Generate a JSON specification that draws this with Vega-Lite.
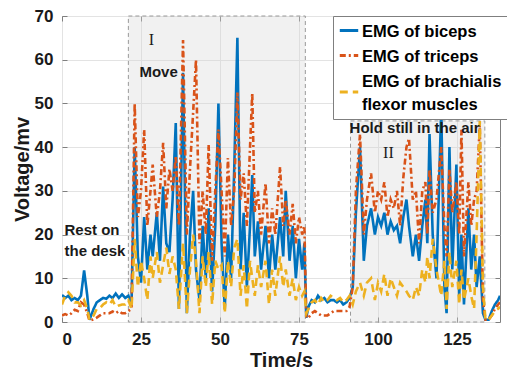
{
  "$schema": "https://vega.github.io/schema/vega-lite/v6.json",
  "width": 438,
  "height": 306,
  "autosize": "none",
  "padding": {"left": 62, "top": 16, "right": 7, "bottom": 54},
  "background": "white",
  "config": {
    "view": {"stroke": "#7f7f7f", "strokeWidth": 1},
    "font": "Liberation Sans",
    "axis": {
      "labelFont": "Liberation Sans", "labelFontWeight": "bold", "labelFontSize": 17, "labelColor": "#1a1a1a",
      "titleFont": "Liberation Sans", "titleFontWeight": "bold", "titleFontSize": 20, "titleColor": "#1a1a1a",
      "gridColor": "#e3e3e3", "gridWidth": 1, "domain": false,
      "tickColor": "#7f7f7f", "tickSize": -5, "labelPadding": 14
    },
    "legend": {
      "title": null, "orient": "none", "legendX": 271, "legendY": 0,
      "fillColor": "white", "strokeColor": "#7f7f7f", "padding": 5, "rowPadding": 5,
      "labelFont": "Liberation Sans", "labelFontWeight": "bold", "labelFontSize": 16.5, "labelColor": "black",
      "labelOffset": 2, "labelLimit": 400,
      "symbolType": "stroke", "symbolStrokeWidth": 3, "symbolSize": 340
    }
  },
  "datasets": {
    "emg": [
      {"t": 0, "s1": 6.2, "s2": 1.5, "s3": 4},
      {"t": 1, "s1": 5.5, "s2": 1.8, "s3": 6},
      {"t": 2, "s1": 6, "s2": 1.5, "s3": 6.8},
      {"t": 3, "s1": 5, "s2": 2, "s3": 6},
      {"t": 4, "s1": 5.5, "s2": 2.8, "s3": 4.5},
      {"t": 5, "s1": 5, "s2": 2.5, "s3": 4.5},
      {"t": 6, "s1": 6, "s2": 4.5, "s3": 3.8},
      {"t": 7, "s1": 11.8, "s2": 4, "s3": 5},
      {"t": 8, "s1": 6, "s2": 2, "s3": 3},
      {"t": 8.7, "s1": 0.5, "s2": 0.3, "s3": 0.5},
      {"t": 10, "s1": 3, "s2": 0.6, "s3": 1.5},
      {"t": 11, "s1": 4.5, "s2": 1, "s3": 3},
      {"t": 12, "s1": 5, "s2": 1.5, "s3": 3.2},
      {"t": 13, "s1": 5.5, "s2": 2, "s3": 4},
      {"t": 14, "s1": 5.3, "s2": 2, "s3": 4.5},
      {"t": 15, "s1": 6, "s2": 2, "s3": 4},
      {"t": 16, "s1": 5.5, "s2": 2.4, "s3": 5},
      {"t": 17, "s1": 6.5, "s2": 2, "s3": 3.5},
      {"t": 18, "s1": 5.5, "s2": 2.5, "s3": 3.8},
      {"t": 19, "s1": 6.3, "s2": 2, "s3": 4},
      {"t": 20, "s1": 5.5, "s2": 2, "s3": 4},
      {"t": 21, "s1": 6, "s2": 2.5, "s3": 5},
      {"t": 22, "s1": 4, "s2": 3, "s3": 3},
      {"t": 23, "s1": 40, "s2": 50, "s3": 19},
      {"t": 24, "s1": 15, "s2": 24, "s3": 8},
      {"t": 25, "s1": 9, "s2": 30, "s3": 14},
      {"t": 26, "s1": 24, "s2": 44, "s3": 10},
      {"t": 27, "s1": 12, "s2": 22, "s3": 5},
      {"t": 28, "s1": 20, "s2": 30, "s3": 15},
      {"t": 28.7, "s1": 15, "s2": 36, "s3": 10},
      {"t": 30, "s1": 25, "s2": 24, "s3": 16},
      {"t": 31, "s1": 14, "s2": 30, "s3": 9},
      {"t": 32, "s1": 31, "s2": 41, "s3": 13},
      {"t": 33, "s1": 18, "s2": 26, "s3": 17},
      {"t": 34, "s1": 16, "s2": 35, "s3": 11},
      {"t": 35, "s1": 28, "s2": 30, "s3": 15},
      {"t": 36, "s1": 45.5, "s2": 38, "s3": 12},
      {"t": 37, "s1": 3, "s2": 22, "s3": 3},
      {"t": 38.3, "s1": 57, "s2": 64.5, "s3": 18},
      {"t": 39.5, "s1": 2, "s2": 20, "s3": 2},
      {"t": 40.5, "s1": 20, "s2": 35, "s3": 12},
      {"t": 41.5, "s1": 30, "s2": 48, "s3": 20},
      {"t": 42.4, "s1": 12, "s2": 60, "s3": 14},
      {"t": 43.5, "s1": 5, "s2": 18, "s3": 2},
      {"t": 44.5, "s1": 22, "s2": 30, "s3": 15},
      {"t": 45.5, "s1": 10, "s2": 20, "s3": 8},
      {"t": 46.4, "s1": 26, "s2": 40.5, "s3": 16},
      {"t": 47.5, "s1": 7, "s2": 14, "s3": 4},
      {"t": 48.5, "s1": 22, "s2": 30, "s3": 14},
      {"t": 49.5, "s1": 50, "s2": 44, "s3": 12},
      {"t": 50.5, "s1": 18, "s2": 30, "s3": 13},
      {"t": 51.5, "s1": 3, "s2": 15, "s3": 2},
      {"t": 52.5, "s1": 20, "s2": 37.5, "s3": 14},
      {"t": 53.5, "s1": 10, "s2": 22, "s3": 8},
      {"t": 54.5, "s1": 35, "s2": 30, "s3": 17},
      {"t": 55.5, "s1": 65, "s2": 52.5, "s3": 19},
      {"t": 56.5, "s1": 12, "s2": 28, "s3": 6},
      {"t": 57.5, "s1": 25, "s2": 34, "s3": 13},
      {"t": 58.5, "s1": 8, "s2": 22, "s3": 3},
      {"t": 59.5, "s1": 22, "s2": 40, "s3": 14},
      {"t": 60.2, "s1": 33.6, "s2": 52.4, "s3": 10},
      {"t": 61, "s1": 15, "s2": 25, "s3": 6},
      {"t": 62, "s1": 23, "s2": 30, "s3": 13},
      {"t": 63, "s1": 12, "s2": 20, "s3": 8},
      {"t": 64.4, "s1": 22, "s2": 31.8, "s3": 14},
      {"t": 65.5, "s1": 10, "s2": 18, "s3": 4},
      {"t": 66.5, "s1": 20, "s2": 26, "s3": 12},
      {"t": 67.5, "s1": 12, "s2": 20, "s3": 6},
      {"t": 69, "s1": 24, "s2": 35.5, "s3": 15},
      {"t": 70, "s1": 15, "s2": 22, "s3": 8},
      {"t": 70.8, "s1": 30, "s2": 28, "s3": 12},
      {"t": 72, "s1": 14, "s2": 20, "s3": 6},
      {"t": 73, "s1": 22, "s2": 27, "s3": 10},
      {"t": 74, "s1": 10, "s2": 18, "s3": 5},
      {"t": 75, "s1": 19, "s2": 24, "s3": 8},
      {"t": 76, "s1": 12, "s2": 20, "s3": 6},
      {"t": 76.7, "s1": 18, "s2": 22, "s3": 7},
      {"t": 77.3, "s1": 1, "s2": 1, "s3": 2},
      {"t": 78, "s1": 3.5, "s2": 1, "s3": 3},
      {"t": 79, "s1": 5, "s2": 2, "s3": 4.5},
      {"t": 80, "s1": 4.5, "s2": 2.5, "s3": 5},
      {"t": 81, "s1": 6, "s2": 2, "s3": 4},
      {"t": 82, "s1": 5, "s2": 1.5, "s3": 5.5},
      {"t": 83, "s1": 5.5, "s2": 1.5, "s3": 4.5},
      {"t": 84, "s1": 4.5, "s2": 1.5, "s3": 5},
      {"t": 85, "s1": 5, "s2": 2, "s3": 6},
      {"t": 86, "s1": 5, "s2": 2.5, "s3": 5.5},
      {"t": 87, "s1": 4.5, "s2": 2.5, "s3": 5},
      {"t": 88, "s1": 5, "s2": 2.5, "s3": 5.5},
      {"t": 89, "s1": 4, "s2": 2.5, "s3": 4.5},
      {"t": 90, "s1": 4.5, "s2": 2.5, "s3": 5},
      {"t": 91, "s1": 5.5, "s2": 3.5, "s3": 6},
      {"t": 92, "s1": 8, "s2": 8, "s3": 4},
      {"t": 93, "s1": 25, "s2": 30, "s3": 7},
      {"t": 94.3, "s1": 40, "s2": 43, "s3": 9},
      {"t": 95.5, "s1": 14, "s2": 20, "s3": 6},
      {"t": 96.5, "s1": 22, "s2": 28, "s3": 9},
      {"t": 97.8, "s1": 26, "s2": 34, "s3": 10},
      {"t": 99, "s1": 20, "s2": 25, "s3": 5},
      {"t": 100, "s1": 24, "s2": 30, "s3": 9},
      {"t": 101, "s1": 22, "s2": 28, "s3": 7},
      {"t": 102, "s1": 25, "s2": 32, "s3": 11},
      {"t": 103, "s1": 20, "s2": 24, "s3": 6},
      {"t": 104, "s1": 23, "s2": 28, "s3": 10},
      {"t": 105, "s1": 21, "s2": 26, "s3": 8},
      {"t": 106, "s1": 22, "s2": 30, "s3": 6},
      {"t": 107, "s1": 18, "s2": 22, "s3": 9},
      {"t": 108, "s1": 24, "s2": 33, "s3": 8},
      {"t": 109, "s1": 28, "s2": 40, "s3": 7},
      {"t": 109.8, "s1": 22, "s2": 42, "s3": 6},
      {"t": 111, "s1": 15, "s2": 28, "s3": 5},
      {"t": 112, "s1": 20, "s2": 30, "s3": 8},
      {"t": 113, "s1": 14, "s2": 18, "s3": 6},
      {"t": 114, "s1": 22, "s2": 30, "s3": 12},
      {"t": 115, "s1": 28, "s2": 32, "s3": 9},
      {"t": 115.6, "s1": 18, "s2": 20, "s3": 15},
      {"t": 116.3, "s1": 43, "s2": 35, "s3": 10},
      {"t": 117.3, "s1": 20, "s2": 25, "s3": 19},
      {"t": 118.5, "s1": 10, "s2": 28, "s3": 12},
      {"t": 120, "s1": 49, "s2": 40, "s3": 6},
      {"t": 121, "s1": 8, "s2": 22, "s3": 14},
      {"t": 121.7, "s1": 2, "s2": 15, "s3": 3},
      {"t": 122.6, "s1": 40, "s2": 35, "s3": 16},
      {"t": 123.5, "s1": 12, "s2": 25, "s3": 8},
      {"t": 124.8, "s1": 36, "s2": 32, "s3": 14},
      {"t": 125.7, "s1": 6, "s2": 20, "s3": 4},
      {"t": 126.4, "s1": 20, "s2": 44, "s3": 12},
      {"t": 127.2, "s1": 4, "s2": 15, "s3": 5},
      {"t": 128.6, "s1": 26, "s2": 32, "s3": 10},
      {"t": 129.5, "s1": 12, "s2": 22, "s3": 6},
      {"t": 130.4, "s1": 20, "s2": 28, "s3": 3},
      {"t": 131.2, "s1": 8, "s2": 30, "s3": 20},
      {"t": 132.2, "s1": 15, "s2": 45, "s3": 46},
      {"t": 133.2, "s1": 2, "s2": 5, "s3": 8},
      {"t": 134, "s1": 0.5, "s2": 0.5, "s3": 0.5},
      {"t": 135, "s1": 0.5, "s2": 0.5, "s3": 0.5},
      {"t": 136, "s1": 2.5, "s2": 1.5, "s3": 1.5},
      {"t": 137, "s1": 4, "s2": 3, "s3": 2.5},
      {"t": 138, "s1": 5, "s2": 4, "s3": 3},
      {"t": 138.6, "s1": 6, "s2": 4.5, "s3": 3.5}
    ]
  },
  "resolve": {"axis": {"x": "independent", "y": "independent"}},
  "layer": [
    {
      "data": {"values": [
        {"a": 21, "b": 77, "lo": 0, "hi": 70},
        {"a": 91.3, "b": 133.8, "lo": 0, "hi": 46}
      ]},
      "mark": {"type": "rect", "fill": "#d4d4d4", "fillOpacity": 0.33, "stroke": "#9a9a9a", "strokeWidth": 1, "strokeDash": [4, 3]},
      "encoding": {
        "x": {"field": "a", "type": "quantitative", "axis": null},
        "x2": {"field": "b"},
        "y": {"field": "lo", "type": "quantitative", "axis": null},
        "y2": {"field": "hi"}
      }
    },
    {
      "data": {"name": "emg"},
      "transform": [{"fold": ["s1", "s2", "s3"], "as": ["k", "v"]}],
      "mark": {"type": "line", "strokeWidth": 2.6, "clip": true},
      "encoding": {
        "x": {"field": "t", "type": "quantitative", "scale": {"domain": [0, 138.6], "nice": false, "zero": false},
              "axis": {"title": "Time/s", "values": [0, 25, 50, 75, 100, 125], "grid": true, "titlePadding": 3}},
        "y": {"field": "v", "type": "quantitative", "scale": {"domain": [0, 70], "nice": false},
              "axis": {"title": "Voltage/mv", "values": [0, 10, 20, 30, 40, 50, 60, 70], "grid": true, "titlePadding": 2}},
        "color": {
          "field": "k", "type": "nominal",
          "scale": {"domain": ["s1", "s2", "s3"], "range": ["#0072BD", "#D95319", "#EDB120"]},
          "legend": {
            "labelExpr": "datum.value == 's1' ? 'EMG of biceps' : datum.value == 's2' ? 'EMG of triceps' : ['EMG of brachialis', ' flexor muscles']",
            "encode": {
              "labels": {"update": {"lineHeight": {"value": 23}}},
              "symbols": {"update": {"y": {"signal": "datum.value == 's3' ? 21 : 9.5"}}}
            }
          }
        },
        "strokeDash": {
          "field": "k", "type": "nominal",
          "scale": {"domain": ["s1", "s2", "s3"], "range": [[1, 0], [6, 3, 2, 3], [8, 5]]},
          "legend": {
            "labelExpr": "datum.value == 's1' ? 'EMG of biceps' : datum.value == 's2' ? 'EMG of triceps' : ['EMG of brachialis', ' flexor muscles']",
            "encode": {
              "labels": {"update": {"lineHeight": {"value": 23}}},
              "symbols": {"update": {"y": {"signal": "datum.value == 's3' ? 21 : 9.5"}}}
            }
          }
        }
      }
    },
    {
      "data": {"values": [
        {"x": 24.5, "y": 57.3, "txt": "Move"},
        {"x": 0.8, "y": 21.1, "txt": "Rest on"},
        {"x": 0.8, "y": 16.3, "txt": "the desk"},
        {"x": 91, "y": 44.3, "txt": "Hold still in the air"}
      ]},
      "mark": {"type": "text", "align": "left", "baseline": "middle", "font": "Liberation Sans", "fontWeight": "bold", "fontSize": 15, "color": "#1a1a1a"},
      "encoding": {
        "x": {"field": "x", "type": "quantitative", "axis": null},
        "y": {"field": "y", "type": "quantitative", "axis": null},
        "text": {"field": "txt"}
      }
    },
    {
      "data": {"values": [
        {"x": 28.3, "y": 64.6, "txt": "I"},
        {"x": 103.3, "y": 38.7, "txt": "II"}
      ]},
      "mark": {"type": "text", "align": "center", "baseline": "middle", "font": "Liberation Serif", "fontSize": 16, "color": "#1a1a1a"},
      "encoding": {
        "x": {"field": "x", "type": "quantitative", "axis": null},
        "y": {"field": "y", "type": "quantitative", "axis": null},
        "text": {"field": "txt"}
      }
    },
    {
      "data": {"values": [{"x": 0, "y": 0}]},
      "mark": {"type": "point", "opacity": 0},
      "encoding": {
        "x": {"field": "x", "type": "quantitative", "axis": {"orient": "top", "title": null, "labels": false, "grid": false, "values": [0, 25, 50, 75, 100, 125]}},
        "y": {"field": "y", "type": "quantitative", "axis": {"orient": "right", "title": null, "labels": false, "grid": false, "values": [0, 10, 20, 30, 40, 50, 60, 70]}}
      }
    }
  ]
}
